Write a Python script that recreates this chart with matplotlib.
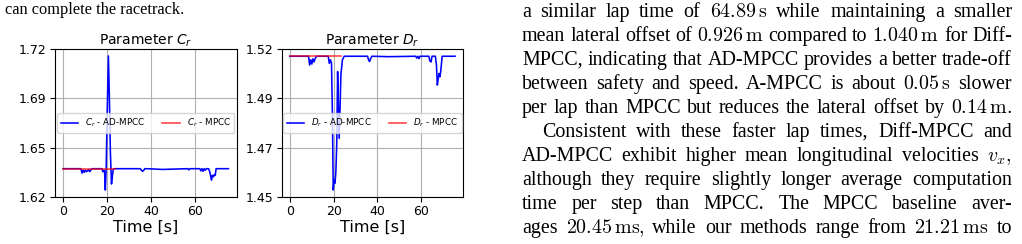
import numpy as np
import matplotlib
matplotlib.use("Agg")
import matplotlib.pyplot as plt

# ---------------- data ----------------
cr_t = [0, 8.0, 8.5, 9.0, 9.5, 10.0, 10.5, 11.0, 11.5, 12.0, 12.5, 13.0, 14.0,
        17.5, 18.0, 18.5, 18.8, 19.1, 19.5, 20.0, 20.5, 20.9, 21.4, 21.9, 22.3,
        22.7, 23.2, 24.0, 35.0, 35.5, 36.0, 36.5, 37.0, 38.0, 45.0, 56.5, 57.0,
        57.5, 58.0, 62.0, 62.5, 63.0, 63.5, 64.0, 64.5, 65.0, 66.0, 66.5, 67.0,
        67.3, 67.7, 68.2, 68.6, 69.0, 69.4, 70.0, 75.0]
cr_ad = [1.639, 1.639, 1.636, 1.638, 1.6365, 1.638, 1.637, 1.6375, 1.6385,
         1.637, 1.638, 1.639, 1.639,
         1.639, 1.637, 1.638, 1.636, 1.6245, 1.640, 1.680, 1.7155, 1.690,
         1.650, 1.6286, 1.634, 1.6385, 1.639, 1.639, 1.639, 1.638, 1.6372,
         1.6378, 1.639, 1.639, 1.6385, 1.639, 1.6382, 1.639, 1.639, 1.639,
         1.6375, 1.639, 1.6372, 1.639, 1.638, 1.639, 1.639, 1.637, 1.6335,
         1.6313, 1.6345, 1.6335, 1.635, 1.6345, 1.639, 1.639, 1.639]
cr_mpcc_t = [0, 23.4]
cr_mpcc = [1.639, 1.639]

dr_t = [0, 8.5, 9.0, 9.5, 10.0, 10.5, 11.0, 11.5, 12.0, 12.5, 13.0, 17.5,
        18.0, 18.5, 19.0, 19.4, 19.8, 20.2, 20.6, 21.0, 21.4, 21.8, 22.1,
        22.5, 22.9, 23.3, 24.0, 24.8, 35.5, 36.0, 36.4, 37.0, 37.5, 45.0,
        57.5, 58.0, 58.5, 59.0, 59.5, 60.0, 63.5, 64.0, 64.5, 65.0, 65.5,
        66.5, 67.0, 67.4, 67.8, 68.2, 68.6, 69.0, 69.6, 70.5, 75.5]
dr_ad = [1.5167, 1.5167, 1.5125, 1.515, 1.513, 1.5155, 1.514, 1.5155, 1.5165,
         1.5167, 1.5167, 1.5167, 1.5133, 1.515, 1.5135, 1.490, 1.4532, 1.458,
         1.4564, 1.462, 1.475, 1.5094, 1.495, 1.4777, 1.492, 1.508, 1.515,
         1.5167, 1.5167, 1.5148, 1.5142, 1.5158, 1.5167, 1.5165, 1.5167,
         1.5158, 1.5167, 1.5156, 1.5167, 1.5167, 1.5167, 1.5145, 1.514,
         1.5167, 1.5167, 1.5167, 1.5125, 1.503, 1.506, 1.5085, 1.507, 1.510,
         1.5167, 1.5167, 1.5167]
dr_mpcc_t = [0, 23.5]
dr_mpcc = [1.5168, 1.5168]

cr_yticklabels = ["1.62", "1.65", "1.69", "1.72"]
dr_yticklabels = ["1.45", "1.47", "1.49", "1.52"]
xticks = [0, 20, 40, 60]

left_text = "can complete the racetrack."
para_lines = [
    ["a", "similar", "lap", "time", "of", r"$64.89\,\mathrm{s}$", "while", "maintaining", "a", "smaller"],
    ["mean", "lateral", "offset", "of", r"$0.926\,\mathrm{m}$", "compared", "to", r"$1.040\,\mathrm{m}$", "for", "Diff-"],
    ["MPCC,", "indicating", "that", "AD-MPCC", "provides", "a", "better", "trade-off"],
    ["between", "safety", "and", "speed.", "A-MPCC", "is", "about", r"$0.05\,\mathrm{s}$", "slower"],
    ["per", "lap", "than", "MPCC", "but", "reduces", "the", "lateral", "offset", "by", r"$0.14\,\mathrm{m}.$"],
    ["Consistent", "with", "these", "faster", "lap", "times,", "Diff-MPCC", "and"],
    ["AD-MPCC", "exhibit", "higher", "mean", "longitudinal", "velocities", r"$v_x,$"],
    ["although", "they", "require", "slightly", "longer", "average", "computation"],
    ["time", "per", "step", "than", "MPCC.", "The", "MPCC", "baseline", "aver-"],
    ["ages", r"$20.45\,\mathrm{ms},$", "while", "our", "methods", "range", "from", r"$21.21\,\mathrm{ms}$", "to"],
]

# ---------------- figure ----------------
W, H = 1022, 244
fig = plt.figure(figsize=(W / 100, H / 100), dpi=100)

def px_axes(x0, x1, y0, y1):
    return fig.add_axes([x0 / W, 1 - y1 / H, (x1 - x0) / W, (y1 - y0) / H])

ax1 = px_axes(55, 236.7, 49.3, 196.7)
ax2 = px_axes(281.7, 463.3, 49.3, 196.7)

def style(ax, t, ad, mt, mp, ylim, ylabels, title, sym):
    ax.plot(t, ad, color="blue", lw=1.15, label=sym + " - AD-MPCC")
    ax.plot(mt, mp, color="red", lw=1.15, alpha=0.75, label=sym + " - MPCC")
    ax.set_ylim(*ylim)
    ax.set_yticks(np.linspace(ylim[0], ylim[1], len(ylabels)))
    ax.set_yticklabels(ylabels)
    ax.set_xticks(xticks)
    ax.grid(True, color="#b0b0b0", lw=0.8)
    ax.tick_params(labelsize=9, length=3.5, width=0.8, pad=2.5)
    ax.set_title(title, fontsize=10, pad=3)
    ax.set_xlabel("Time [s]", fontsize=11.5, labelpad=1)
    ax.legend(loc="center", ncol=2, fontsize=6.3, handlelength=2.0,
              columnspacing=1.9, borderpad=0.4, handletextpad=0.8,
              fancybox=True, framealpha=0.8)

style(ax1, cr_t, cr_ad, cr_mpcc_t, cr_mpcc, (1.62, 1.72), cr_yticklabels,
      r"Parameter $C_r$", r"$C_r$")
style(ax2, dr_t, dr_ad, dr_mpcc_t, dr_mpcc, (1.45, 1.52), dr_yticklabels,
      r"Parameter $D_r$", r"$D_r$")

# ---------------- text ----------------
FS = 14.4
serif = "Liberation Serif"
fig.text(5 / W, 1 - 14 / H, left_text, fontsize=11.8, family=serif,
         va="baseline", ha="left")

renderer = fig.canvas.get_renderer()
x_left, x_right = 522.0, 1012.0
base0, step = 17.0, 24.0
for i, words in enumerate(para_lines):
    y = 1 - (base0 + i * step) / H
    xl = x_left + (20 if i == 5 else 0)
    objs = []
    for w in words:
        t = fig.text(0, y, w, fontsize=FS, family=serif, va="baseline",
                     ha="left", math_fontfamily="cm")
        objs.append(t)
    widths = [o.get_window_extent(renderer).width for o in objs]
    gap = (x_right - xl - sum(widths)) / max(len(objs) - 1, 1)
    x = xl
    for o, wdt in zip(objs, widths):
        o.set_x(x / W)
        x += wdt + gap

fig.savefig("out.png", dpi=100)
